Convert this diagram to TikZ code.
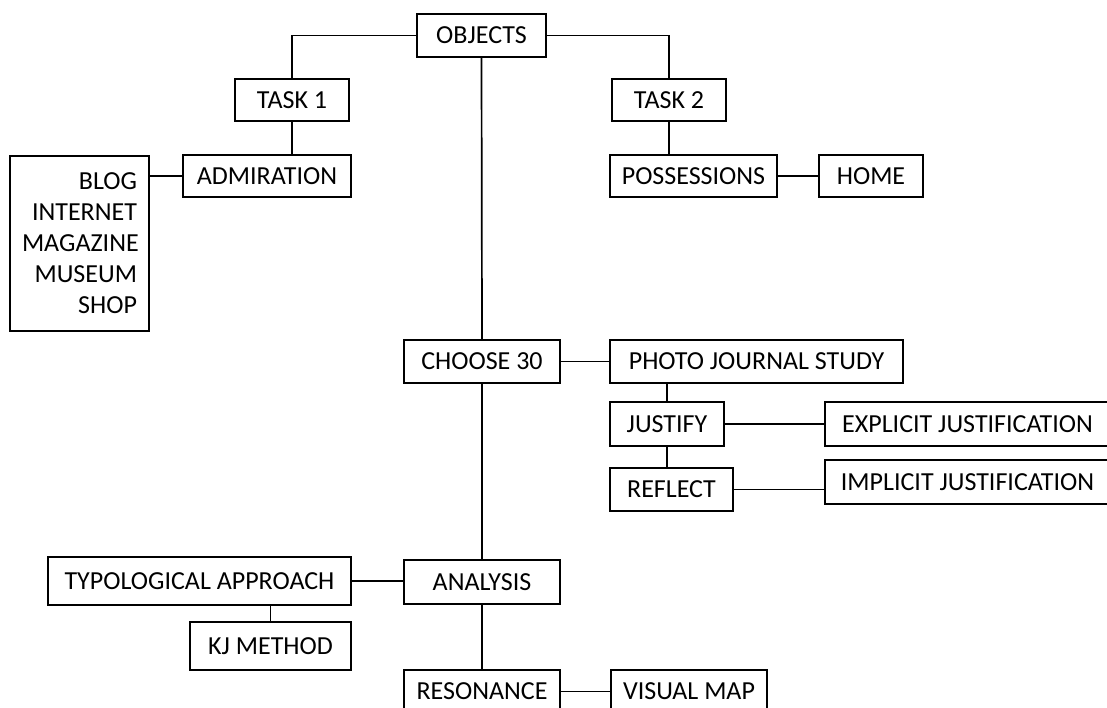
\documentclass[tikz,border=0pt]{standalone}
\usepackage{fontspec}
\setmainfont{Carlito}
\usepackage{tikz}

\begin{document}
\begin{tikzpicture}[x=1pt, y=-1pt,
    box/.style={draw, line width=1.7pt, rectangle, inner sep=0pt, minimum height=43pt, font=\fontsize{26}{31}\selectfont},
    link/.style={line width=1.7pt}]
    \useasboundingbox (0, 0) rectangle (1107, 708);

    \node[box, minimum width=129pt] (objects) at (481.5, 35.5) {OBJECTS};
    \node[box, minimum width=114pt, minimum height=42pt] (task1) at (292, 100) {TASK 1};
    \node[box, minimum width=114pt, minimum height=42pt] (task2) at (669, 100) {TASK 2};
    \node[box, minimum width=168pt, minimum height=42pt] (admiration) at (267, 176) {ADMIRATION};
    \node[box, minimum width=139pt, minimum height=175pt, text width=115pt, align=right] (sources) at (79.5, 243.5) {BLOG\\INTERNET\\MAGAZINE\\MUSEUM\\SHOP};
    \node[box, minimum width=167pt, minimum height=42pt] (possessions) at (693.5, 176) {POSSESSIONS};
    \node[box, minimum width=104pt, minimum height=42pt] (home) at (871, 176) {HOME};

    \node[box, minimum width=156pt] (choose) at (482, 361.5) {CHOOSE 30};
    \node[box, minimum width=293pt] (photo) at (756.5, 361.5) {PHOTO JOURNAL STUDY};
    \node[box, minimum width=114pt, minimum height=44pt] (justify) at (667, 424) {JUSTIFY};
    \node[box, minimum width=123pt] (reflect) at (671.5, 489.5) {REFLECT};
    \node[box, minimum width=285pt, minimum height=44pt] (explicit) at (967.5, 424) {EXPLICIT JUSTIFICATION};
    \node[box, minimum width=285pt, minimum height=44pt] (implicit) at (967.5, 482) {IMPLICIT JUSTIFICATION};

    \node[box, minimum width=303pt, minimum height=48pt] (typological) at (199.5, 581) {TYPOLOGICAL APPROACH};
    \node[box, minimum width=161pt, minimum height=48pt] (kj) at (270.5, 646) {KJ METHOD};
    \node[box, minimum width=156pt, minimum height=44pt] (analysis) at (482, 582) {ANALYSIS};
    \node[box, minimum width=156pt] (resonance) at (482, 691.5) {RESONANCE};
    \node[box, minimum width=156pt] (visualmap) at (689, 691.5) {VISUAL MAP};

    \draw[link] (objects.west) -| (task1.north);
    \draw[link] (objects.east) -| (task2.north);
    \draw[link] (task1.south) -- (task1.south |- admiration.north);
    \draw[link] (admiration.west) -- (admiration.west -| sources.east);
    \draw[link] (task2.south) -- (task2.south |- possessions.north);
    \draw[link] (possessions.east) -- (home.west);

    \draw[link] (objects.south) -- (choose.north);
    \draw[link] (choose.east) -- (photo.west);
    \draw[link] (photo.south -| justify) -- (justify.north);
    \draw[link] (justify.south) -- (justify.south |- reflect.north);
    \draw[link] (justify.east) -- (explicit.west);
    \draw[link] (reflect.east) -- (reflect.east -| implicit.west);

    \draw[link] (choose.south) -- (analysis.north);
    \draw[link] (typological.east) -- (typological.east -| analysis.west);
    \draw[link] (kj.north) -- (kj.north |- typological.south);
    \draw[link] (analysis.south) -- (resonance.north);
    \draw[link] (resonance.east) -- (visualmap.west);
\end{tikzpicture}
\end{document}
